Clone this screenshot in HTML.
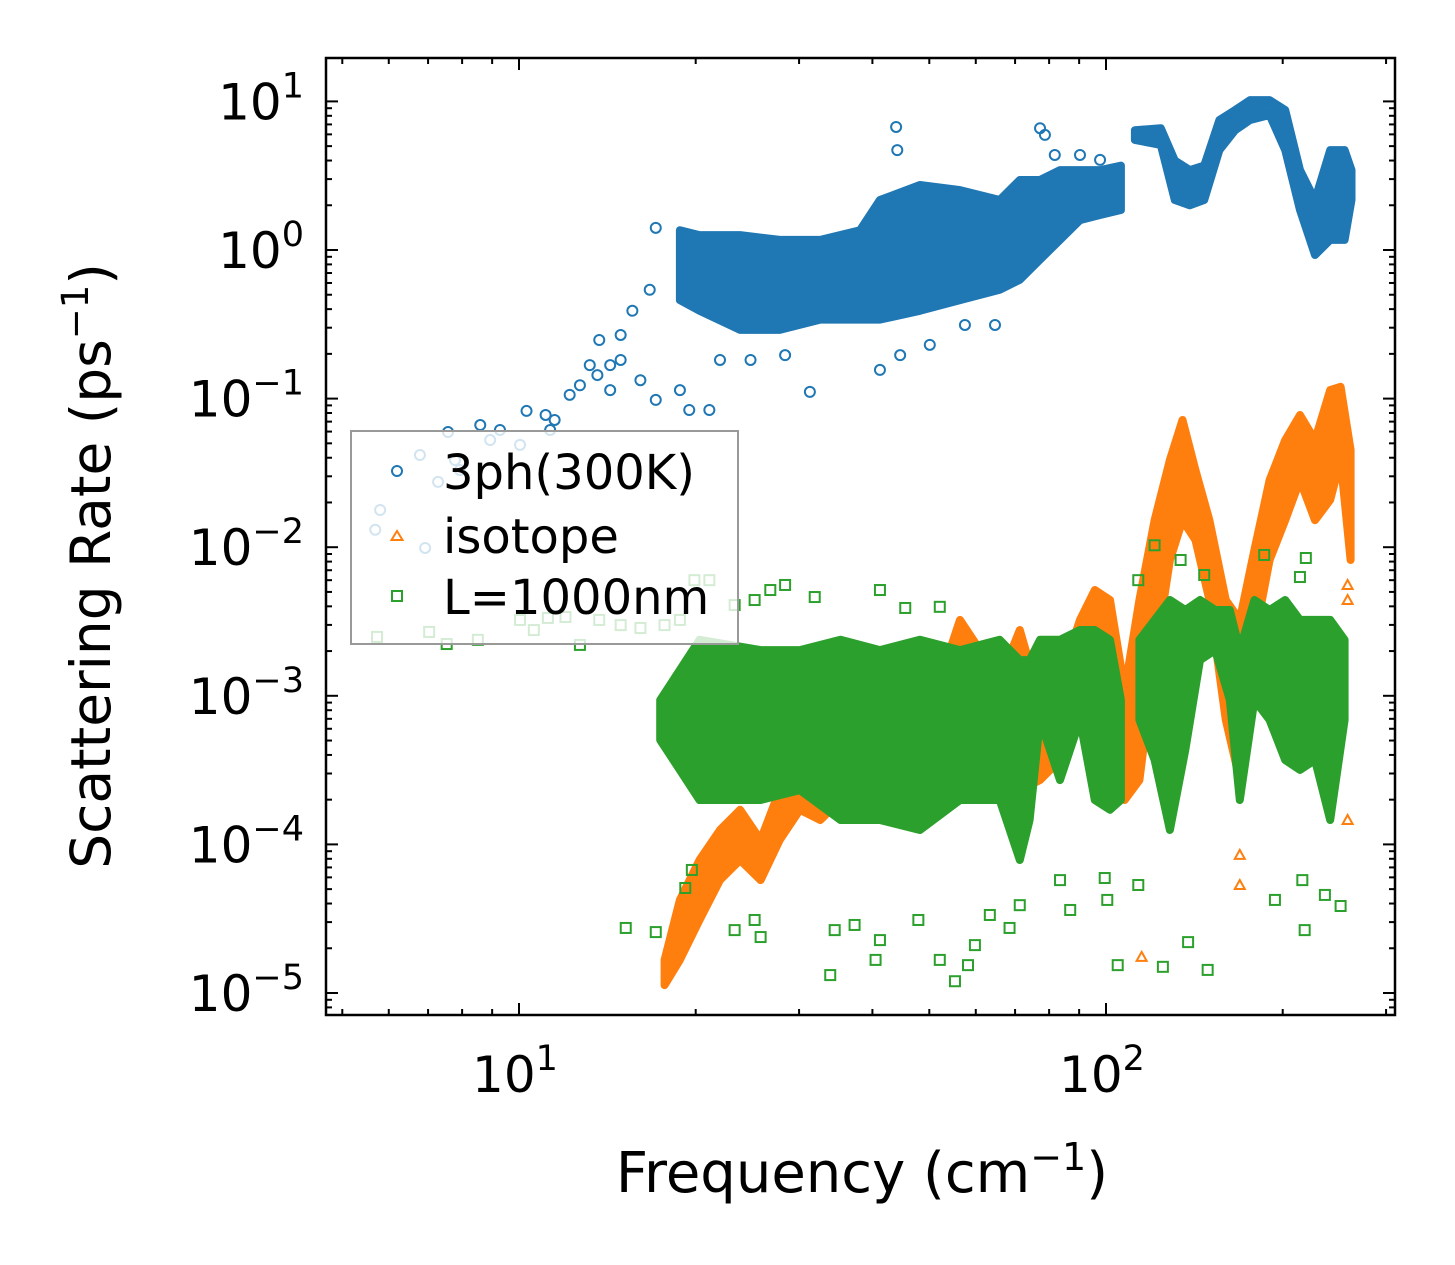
<!DOCTYPE html>
<html><head><meta charset="utf-8">
<style>
html,body{margin:0;padding:0;background:#fff;}
svg{display:block;font-family:"DejaVu Sans","Liberation Sans",sans-serif;}
</style></head>
<body>
<svg id="chart" width="1455" height="1265" viewBox="0 0 1455 1265" xmlns="http://www.w3.org/2000/svg">
<rect width="1455" height="1265" fill="#fff"/>
<g id="marks"></g>
<g id="axes"></g>
<text x="862" y="1192" font-size="56" text-anchor="middle">Frequency (cm<tspan dy="-22" font-size="38">−1</tspan><tspan dy="22">)</tspan></text>
<text transform="translate(110,566) rotate(-90)" font-size="55" text-anchor="middle">Scattering Rate (ps<tspan dy="-22" font-size="37">−1</tspan><tspan dy="22">)</tspan></text>
<g id="legend">
<rect x="351" y="431" width="387" height="213" fill="#fff" fill-opacity="0.8" stroke="#999" stroke-width="2"/>
<circle cx="397" cy="471" r="5" fill="none" stroke="#1f77b4" stroke-width="2"/>
<text x="443" y="489" font-size="48">3ph(300K)</text>
<path d="M397,531 L402.5,540 L391.5,540 Z" fill="none" stroke="#ff7f0e" stroke-width="2"/>
<text x="443" y="553" font-size="48">isotope</text>
<rect x="392" y="591" width="10" height="10" fill="none" stroke="#2ca02c" stroke-width="2"/>
<text x="443" y="614" font-size="48">L=1000nm</text>
</g>
</svg>
<script>
// ---- data ----
const blueBand1F=[18.8,20.3,23.8,27.8,32.6,38.1,41.2,48.2,56.4,65.9,71.3,77.2,83.5,90.3,97.7,106];
const blueBand1Lo=[0.46,0.39,0.29,0.29,0.34,0.34,0.34,0.39,0.46,0.54,0.63,0.86,1.17,1.59,1.72,1.86];
const blueBand1Hi=[1.36,1.26,1.26,1.17,1.17,1.36,2.17,2.74,2.53,2.17,2.96,2.96,3.45,3.45,3.45,3.7];
const blueBand2F=[112,124,131,139,147,156,166,176,190,202,214,227,241,255,262];
const blueBand2Lo=[5.5,5.1,2.17,2.0,2.17,4.7,6.4,7.5,8.1,4.7,1.86,0.925,1.17,1.17,2.17];
const blueBand2Hi=[6.4,6.6,4.0,3.45,3.7,7.5,8.75,10.2,10.2,8.75,3.45,2.17,4.7,4.7,3.45];
const blueF=[17.1,16.7,15.6,14.9,13.7,13.6,13.2,12.7,12.2,11.5,11.1,10.3,11.3,10.04,9.28,8.93,8.59,7.93,7.78,7.28,6.78,7.57,6.92,5.8,5.69,14.9,14.3,16.1,17.1,18.8,19.5,21.1,22.0,24.8,28.4,31.3,41.2,44.6,57.5,64.7,43.9,44.1,77.2,78.7,81.8,90.3,97.7,38.8,50.1,14.3];
const blueR=[1.41,0.54,0.39,0.268,0.248,0.144,0.168,0.123,0.106,0.0718,0.0776,0.0826,0.0615,0.0488,0.0615,0.0526,0.0664,0.0331,0.0386,0.0275,0.0417,0.0596,0.00988,0.0178,0.0131,0.182,0.114,0.133,0.098,0.114,0.0838,0.0838,0.182,0.182,0.196,0.111,0.156,0.196,0.313,0.313,6.73,4.7,6.6,5.95,4.36,4.36,4.04,0.58,0.23,0.168];

const orangeBandF=[17.7,18.8,20.3,22.0,23.8,25.8,27.8,30.1,32.6,35.3,41.2,48.2,56.4,61.0,65.9,71.3,77.2,83.5,90.3,95.7,101.6,107.6,114,121,128.5,135,142,150,160,169,179,190,202,214,227,241,251,261];
const orangeBandLo=[1.13e-5,1.67e-5,3.1e-5,5.75e-5,7.85e-5,5.75e-5,1.07e-4,1.71e-4,1.46e-4,1.99e-4,1.46e-4,1.46e-4,2.71e-4,2.71e-4,1.99e-4,2.32e-4,2.71e-4,3.7e-4,6.87e-4,9.37e-4,1.28e-3,1.99e-4,2.71e-4,1.74e-3,8.2e-3,1.52e-2,1.12e-2,4.41e-3,6.87e-4,2.71e-4,2.38e-3,8.2e-3,1.52e-2,2.83e-2,1.52e-2,2.08e-2,3.86e-2,8.2e-3];
const orangeBandHi=[1.67e-5,4.23e-5,7.85e-5,1.25e-4,1.71e-4,1.07e-4,2.32e-4,3.17e-4,2.71e-4,3.7e-4,3.7e-4,5.04e-4,3.24e-3,2.03e-3,1.28e-3,2.77e-3,9.37e-4,1.28e-3,3.24e-3,5.15e-3,4.41e-3,1.09e-3,4.41e-3,1.52e-2,3.86e-2,7.18e-2,3.31e-2,1.52e-2,4.41e-3,3.24e-3,9.58e-3,2.83e-2,5.26e-2,7.76e-2,5.26e-2,1.14e-1,1.2e-1,4.51e-2];
const orangeF=[169,169,115,258,258,258,169];
const orangeR=[5.33e-5,8.5e-5,1.75e-5,1.46e-4,5.57e-3,4.41e-3,5.04e-4];

const greenBand1F=[17.4,20.3,25.8,30.1,35.3,41.2,48.2,56.4,65.9,71.3,74.1,77.2,83.5,90.3,95.7,101.6,106];
const greenBand1Hi=[9.37e-4,2.38e-3,2.03e-3,2.03e-3,2.38e-3,2.03e-3,2.38e-3,2.03e-3,2.38e-3,1.74e-3,1.74e-3,2.38e-3,2.38e-3,2.77e-3,2.77e-3,2.38e-3,9.37e-4];
const greenBand1Lo=[5.04e-4,1.99e-4,1.99e-4,2.32e-4,1.46e-4,1.46e-4,1.25e-4,1.99e-4,1.99e-4,7.85e-5,1.46e-4,6.87e-4,2.71e-4,6.87e-4,1.99e-4,1.71e-4,1.99e-4];
const greenBand2F=[114,121,128.5,136.5,144.6,153.5,162.5,169,179,190,202,214,227,241,255];
const greenBand2Hi=[2.38e-3,3.24e-3,4.41e-3,3.78e-3,4.41e-3,3.78e-3,3.78e-3,2.03e-3,4.41e-3,3.78e-3,4.41e-3,3.24e-3,3.24e-3,3.24e-3,2.38e-3];
const greenBand2Lo=[6.87e-4,3.7e-4,1.25e-4,4.32e-4,1.74e-3,2.03e-3,9.37e-4,1.99e-4,9.37e-4,6.87e-4,3.7e-4,3.17e-4,3.7e-4,1.46e-4,6.87e-4];
const greenF=[5.73,7.03,7.53,8.51,10.04,10.6,11.2,12.0,12.7,13.7,14.9,16.1,17.7,18.8,19.9,21.1,23.3,25.2,26.8,28.4,31.9,41.2,45.5,52.1,15.2,17.1,19.2,19.7,23.3,25.8,25.2,34.5,37.3,41.2,40.5,33.9,47.9,52.1,55.3,58.2,59.8,63.4,68.5,71.3,83.5,86.9,99.5,100.5,104.7,113.5,125,138,149,194,216,218,236,251,219,186,214,121,134,113.5,147];
const greenR=[2.49e-3,2.69e-3,2.23e-3,2.38e-3,3.24e-3,2.77e-3,3.34e-3,3.39e-3,2.2e-3,3.24e-3,2.99e-3,2.86e-3,2.99e-3,3.24e-3,6.0e-3,6.0e-3,4.08e-3,4.41e-3,5.15e-3,5.57e-3,4.62e-3,5.15e-3,3.9e-3,3.97e-3,2.74e-5,2.57e-5,5.09e-5,6.73e-5,2.65e-5,2.38e-5,3.1e-5,2.65e-5,2.87e-5,2.27e-5,1.67e-5,1.32e-5,3.1e-5,1.67e-5,1.2e-5,1.54e-5,2.1e-5,3.35e-5,2.74e-5,3.9e-5,5.75e-5,3.62e-5,5.94e-5,4.23e-5,1.54e-5,5.33e-5,1.5e-5,2.2e-5,1.43e-5,4.23e-5,5.75e-5,2.65e-5,4.57e-5,3.85e-5,8.46e-3,8.87e-3,6.3e-3,1.03e-2,8.2e-3,6.0e-3,6.5e-3];

const xTickVals=[10,100];
const xTickExp=["1","2"];
const yTickVals=[10,1,0.1,0.01,0.001,1e-4,1e-5];
const yTickExp=["1","0","−1","−2","−3","−4","−5"];

// ---- axes ----
const L=326,R=1395,T=58,B=1015;
const X=f=>519+(Math.log10(f)-1)*587;
const Y=r=>250-Math.log10(r)*148.6;
const NS="http://www.w3.org/2000/svg";
const marks=document.getElementById('marks'), axes=document.getElementById('axes');
function mk(tag,attrs,parent){const e=document.createElementNS(NS,tag);for(const k in attrs)e.setAttribute(k,attrs[k]);parent.appendChild(e);return e;}

const defs=mk('defs',{},marks);
const cp=mk('clipPath',{id:'clip'},defs);
mk('rect',{x:L,y:T,width:R-L,height:B-T},cp);
const plot=mk('g',{'clip-path':'url(#clip)'},marks);

function band(F,Lo,Hi,color,name){
  let pts=F.map((f,i)=>X(f).toFixed(1)+','+Y(Hi[i]).toFixed(1));
  for(let i=F.length-1;i>=0;i--)pts.push(X(F[i]).toFixed(1)+','+Y(Lo[i]).toFixed(1));
  const p=mk('polygon',{points:pts.join(' '),fill:color,stroke:color,'stroke-width':8,'stroke-linejoin':'round'},plot);
  
  
}
function circles(F,Rr,name){F.forEach((f,i)=>{const c=mk('circle',{cx:X(f),cy:Y(Rr[i]),r:5,fill:'none',stroke:'#1f77b4','stroke-width':2},plot);
  
  });}
function tris(F,Rr,name){F.forEach((f,i)=>{const x=X(f),y=Y(Rr[i]);const t=mk('path',{d:`M${x},${y-5} L${x+5},${y+4} L${x-5},${y+4} Z`,fill:'none',stroke:'#ff7f0e','stroke-width':2},plot);
  
  });}
function squares(F,Rr,name){F.forEach((f,i)=>{const s=mk('rect',{x:X(f)-5,y:Y(Rr[i])-5,width:10,height:10,fill:'none',stroke:'#2ca02c','stroke-width':2},plot);
  
  });}

band(blueBand1F,blueBand1Lo,blueBand1Hi,'#1f77b4','3ph-dense-band-low');
band(blueBand2F,blueBand2Lo,blueBand2Hi,'#1f77b4','3ph-dense-band-high');
circles(blueF,blueR,'3ph-point');
band(orangeBandF,orangeBandLo,orangeBandHi,'#ff7f0e','isotope-dense-band');
tris(orangeF,orangeR,'isotope-point');
band(greenBand1F,greenBand1Lo,greenBand1Hi,'#2ca02c','boundary-dense-band-low');
band(greenBand2F,greenBand2Lo,greenBand2Hi,'#2ca02c','boundary-dense-band-high');
squares(greenF,greenR,'boundary-point');

const fr=mk('rect',{x:L,y:T,width:R-L,height:B-T,fill:'none',stroke:'#000','stroke-width':2.5},axes);



for(let d=0;d<3;d++){for(let m=1;m<10;m++){const f=m*Math.pow(10,d);const x=X(f);if(x<L||x>R)continue;const len=(m===1)?12:6;
  mk('line',{x1:x,y1:B,x2:x,y2:B-len,stroke:'#000','stroke-width':2},axes);
  mk('line',{x1:x,y1:T,x2:x,y2:T+len,stroke:'#000','stroke-width':2},axes);}}
xTickVals.forEach((v,i)=>{const t=mk('text',{x:X(v)-4,y:1092,'font-size':50,'text-anchor':'middle'},axes);
  
  
  t.innerHTML='10<tspan dy="-22" font-size="35">'+xTickExp[i]+'</tspan>';});
for(let d=-6;d<2;d++){for(let m=1;m<10;m++){const r=m*Math.pow(10,d);const y=Y(r);if(y<T||y>B)continue;const len=(m===1)?12:6;
  mk('line',{x1:L,y1:y,x2:L+len,y2:y,stroke:'#000','stroke-width':2},axes);
  mk('line',{x1:R,y1:y,x2:R-len,y2:y,stroke:'#000','stroke-width':2},axes);}}
yTickVals.forEach((v,i)=>{const t=mk('text',{x:304,y:Y(v)+18,'font-size':50,'text-anchor':'end'},axes);
  
  
  t.innerHTML='10<tspan dy="-22" font-size="35">'+yTickExp[i]+'</tspan>';});
</script>
</body></html>
